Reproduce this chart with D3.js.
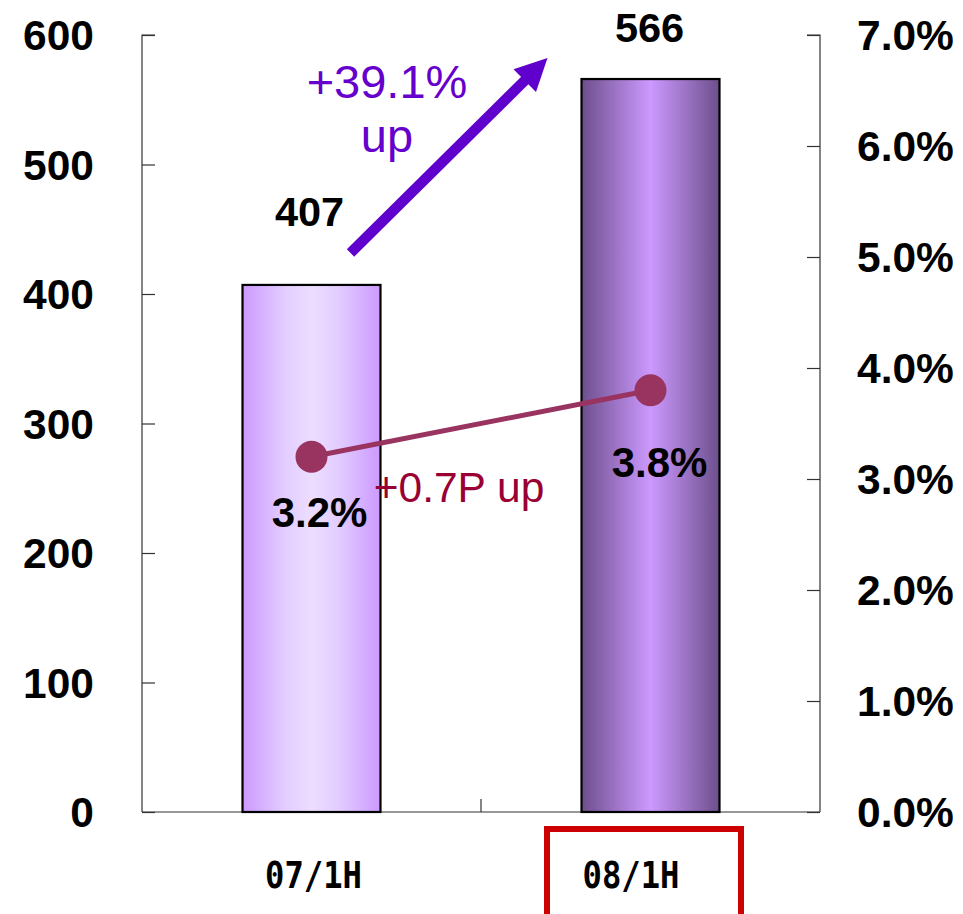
<!DOCTYPE html>
<html>
<head>
<meta charset="utf-8">
<script src="https://cdn.jsdelivr.net/npm/d3@7"></script>
<style>
  html, body { margin: 0; padding: 0; background: #fff; }
  svg { display: block; }
</style>
</head>
<body>
<svg id="chart" width="963" height="914"></svg>
<script>
// Half-year sales (bars, left axis) and margin ratio (line, right axis)
const categories = ["07/1H", "08/1H"];
const salesValues = [407, 566];
const ratioValues = [3.2, 3.8];
const leftTicks = [0, 100, 200, 300, 400, 500, 600];
const rightTicks = [0, 1, 2, 3, 4, 5, 6, 7];
const growthLabel = ["+39.1%", "up"];
const ratioChangeLabel = "+0.7P up";

const svg = d3.select("#chart");
const plot = { left: 142, right: 820, top: 35, bottom: 812 };

const x = d3.scaleBand().domain(categories).range([plot.left, plot.right]);
const yL = d3.scaleLinear().domain([0, 600]).range([plot.bottom, plot.top]);
const yR = d3.scaleLinear().domain([0, 7]).range([plot.bottom, plot.top]);
const barW = x.bandwidth() * 0.407;
const cx = c => x(c) + x.bandwidth() / 2;

// Gradients for the two bars
const defs = svg.append("defs");
const gradSpecs = [
  { id: "g0", stops: [[0, "#cc99ff"], [0.3, "#e2ccff"], [0.5, "#ecdeff"], [0.7, "#e2ccff"], [1, "#cc99ff"]] },
  { id: "g1", stops: [[0, "#6c4f8c"], [0.25, "#9d74c6"], [0.5, "#cc99ff"], [0.75, "#9d74c6"], [1, "#6c4f8c"]] }
];
gradSpecs.forEach(g => {
  const lg = defs.append("linearGradient").attr("id", g.id)
    .attr("x1", "0%").attr("x2", "100%").attr("y1", "0%").attr("y2", "0%");
  g.stops.forEach(s => lg.append("stop").attr("offset", s[0]).attr("stop-color", s[1]));
});

// Axes
const axisStyle = g => {
  g.selectAll("path").attr("stroke", "#333").attr("stroke-width", 1.2);
  g.selectAll("line").attr("stroke", "#333").attr("stroke-width", 1.2);
  g.selectAll("text").remove();
};
svg.append("g").attr("transform", `translate(${plot.left},0)`)
  .call(d3.axisRight(yL).tickValues(leftTicks).tickSize(13).tickSizeOuter(0))
  .call(g => g.select("path").attr("d", `M13,${plot.top}H0V${plot.bottom}`))
  .call(axisStyle);
svg.append("g").attr("transform", `translate(${plot.right},0)`)
  .call(d3.axisLeft(yR).tickValues(rightTicks).tickSize(13).tickSizeOuter(0))
  .call(g => g.select("path").attr("d", `M-13,${plot.top}H0V${plot.bottom}`))
  .call(axisStyle);
svg.append("line")
  .attr("x1", plot.left).attr("x2", plot.right)
  .attr("y1", plot.bottom).attr("y2", plot.bottom)
  .attr("stroke", "#333").attr("stroke-width", 1.2);
svg.append("line")
  .attr("x1", x(categories[1])).attr("x2", x(categories[1]))
  .attr("y1", plot.bottom).attr("y2", plot.bottom - 13)
  .attr("stroke", "#333").attr("stroke-width", 1.2);

// Tick labels
const tickFont = "'Liberation Sans', Arial, sans-serif";
svg.append("g").selectAll("text").data(leftTicks).join("text")
  .attr("x", 94).attr("y", d => yL(d) + 15)
  .attr("text-anchor", "end")
  .attr("font-family", tickFont).attr("font-weight", "bold").attr("font-size", 42.5)
  .text(d => d);
svg.append("g").selectAll("text").data(rightTicks).join("text")
  .attr("x", 857).attr("y", d => yR(d) + 15)
  .attr("text-anchor", "start")
  .attr("font-family", tickFont).attr("font-weight", "bold").attr("font-size", 42.5)
  .text(d => d.toFixed(1) + "%");

// Bars
svg.append("g").selectAll("rect").data(salesValues).join("rect")
  .attr("x", (d, i) => cx(categories[i]) - barW / 2)
  .attr("y", d => yL(d))
  .attr("width", barW)
  .attr("height", d => yL(0) - yL(d))
  .attr("fill", (d, i) => `url(#g${i})`)
  .attr("stroke", "#000").attr("stroke-width", 2.2);

// Bar value labels
const valueOffsets = [[-2, -59], [-1, -37]];
svg.append("g").selectAll("text").data(salesValues).join("text")
  .attr("x", (d, i) => cx(categories[i]) + valueOffsets[i][0])
  .attr("y", (d, i) => yL(d) + valueOffsets[i][1])
  .attr("text-anchor", "middle")
  .attr("font-family", tickFont).attr("font-weight", "bold").attr("font-size", 41.5)
  .text(d => d);

// Ratio line
const lineColor = "#993360";
svg.append("path")
  .datum(ratioValues)
  .attr("d", d3.line().x((d, i) => cx(categories[i])).y(d => yR(d)))
  .attr("fill", "none").attr("stroke", lineColor).attr("stroke-width", 5);
svg.append("g").selectAll("circle").data(ratioValues).join("circle")
  .attr("cx", (d, i) => cx(categories[i])).attr("cy", d => yR(d))
  .attr("r", 16).attr("fill", lineColor);

// Ratio labels
const ratioOffsets = [[8, 70], [9, 87]];
svg.append("g").selectAll("text").data(ratioValues).join("text")
  .attr("x", (d, i) => cx(categories[i]) + ratioOffsets[i][0])
  .attr("y", (d, i) => yR(d) + ratioOffsets[i][1])
  .attr("text-anchor", "middle")
  .attr("font-family", tickFont).attr("font-weight", "bold").attr("font-size", 42)
  .text(d => d.toFixed(1) + "%");

svg.append("text")
  .attr("x", 459).attr("y", 502)
  .attr("text-anchor", "middle")
  .attr("font-family", tickFont).attr("font-size", 42.5)
  .attr("fill", "#990033")
  .text(ratioChangeLabel);

// Growth arrow
const arrowColor = "#6000cc";
const a0 = [cx(categories[0]) + 39, yL(salesValues[0]) - 32];
const a1 = [cx(categories[1]) - 103, yL(salesValues[1]) - 21];
const ang = Math.atan2(a1[1] - a0[1], a1[0] - a0[0]);
const headLen = 32, headHalf = 16;
const base = [a1[0] - headLen * Math.cos(ang), a1[1] - headLen * Math.sin(ang)];
svg.append("line")
  .attr("x1", a0[0]).attr("y1", a0[1])
  .attr("x2", base[0] + 2 * Math.cos(ang)).attr("y2", base[1] + 2 * Math.sin(ang))
  .attr("stroke", arrowColor).attr("stroke-width", 10.5);
const px = -Math.sin(ang), py = Math.cos(ang);
svg.append("path")
  .attr("d", `M${a1[0]},${a1[1]}L${base[0] + px * headHalf},${base[1] + py * headHalf}L${base[0] - px * headHalf},${base[1] - py * headHalf}Z`)
  .attr("fill", arrowColor);

svg.append("g").selectAll("text").data(growthLabel).join("text")
  .attr("x", 387).attr("y", (d, i) => 98 + i * 54)
  .attr("text-anchor", "middle")
  .attr("font-family", tickFont).attr("font-size", 47)
  .attr("fill", "#6600cc")
  .text(d => d);

// Category labels
const catCenters = [313.5, 631];
svg.append("g").selectAll("text").data(categories).join("text")
  .attr("x", (c, i) => catCenters[i]).attr("y", 888)
  .attr("text-anchor", "middle")
  .attr("font-family", "'DejaVu Sans Mono', monospace").attr("font-weight", "bold").attr("font-size", 38)
  .attr("textLength", 97).attr("lengthAdjust", "spacingAndGlyphs")
  .text(c => c);

// Highlight frame around the latest period
svg.append("rect")
  .attr("x", 547).attr("y", 829)
  .attr("width", 194).attr("height", 100)
  .attr("fill", "none").attr("stroke", "#cc0000").attr("stroke-width", 6);
</script>
</body>
</html>
